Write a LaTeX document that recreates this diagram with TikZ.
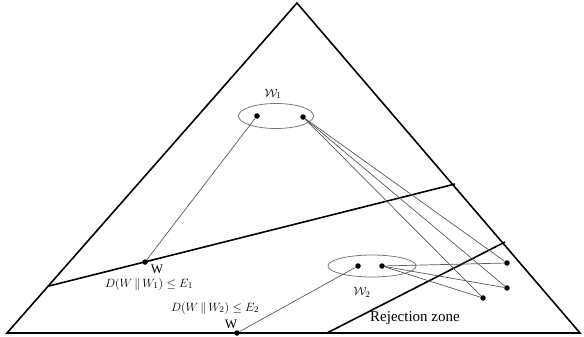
\documentclass[tikz,border=0pt]{standalone}
\usepackage{fontspec}
\setmainfont{Liberation Serif}
\usepackage{amsmath}
\usepackage{amssymb}
\usetikzlibrary{shapes.geometric}
\definecolor{thinline}{RGB}{90,90,90}
\definecolor{setline}{RGB}{120,120,120}

\begin{document}
\begin{tikzpicture}[
  x=1pt, y=-1pt,
  every node/.style={font=\fontsize{13}{15}\selectfont, inner sep=1pt},
  border/.style={draw=black, line width=1.6pt, line join=miter},
  dot/.style={circle, fill=black, inner sep=0pt, minimum size=5.5pt},
  typeset/.style={draw=setline, ellipse, line width=0.8pt, inner sep=0pt},
  link/.style={draw=thinline, line width=0.7pt}
]
\useasboundingbox (0,0) rectangle (584,337);

% simplex
\coordinate (apex) at (297,3);
\coordinate (bl) at (7,333);
\coordinate (br) at (580,333);
\draw[border] (apex) -- (br) -- (bl) -- cycle;

% decision boundaries
\coordinate (b1l) at (49,286);
\coordinate (b1r) at (455,184);
\coordinate (b2l) at (327,333);
\coordinate (b2r) at (505,242);
\draw[border] (b1l) -- (b1r);
\draw[border] (b2l) -- (b2r);

% type sets
\node[typeset, minimum width=75pt, minimum height=25pt] (set1) at (276,116) {};
\node[typeset, minimum width=88pt, minimum height=22pt] (set2) at (372,266) {};
\node (lab1) at (273,94) {$\mathcal{W}_1$};
\node (lab2) at (362,292) {$\mathcal{W}_2$};

\node[dot] (w1a) at (257,116) {};
\node[dot] (w1b) at (303,117) {};
\node[dot] (w2a) at (358,266) {};
\node[dot] (w2b) at (382,266) {};

% points in the rejection zone
\node[dot] (r1) at (507,263) {};
\node[dot] (r2) at (507,288) {};
\node[dot] (r3) at (483,298) {};

% empirical distributions on the boundaries
\node[dot] (p1) at (145,262) {};
\node[dot] (p2) at (237,333) {};
\node (p1lab) at (157,269) {W};
\node (p2lab) at (231,324) {W};

\node (d1) at (149,284) {$D(W\,\|\,W_1)\leq E_1$};
\node (d2) at (215,308) {$D(W\,\|\,W_2)\leq E_2$};
\node[font=\fontsize{15}{17}\selectfont] (rej) at (415,318) {Rejection zone};

\draw[link] (w1a) -- (p1);
\draw[link] (w2a) -- (p2);
\draw[link] (w1b) -- (r1);
\draw[link] (w1b) -- (r2);
\draw[link] (w1b) -- (r3);
\draw[link] (w2b) -- (r1);
\draw[link] (w2b) -- (r2);
\draw[link] (w2b) -- (r3);

\end{tikzpicture}
\end{document}
